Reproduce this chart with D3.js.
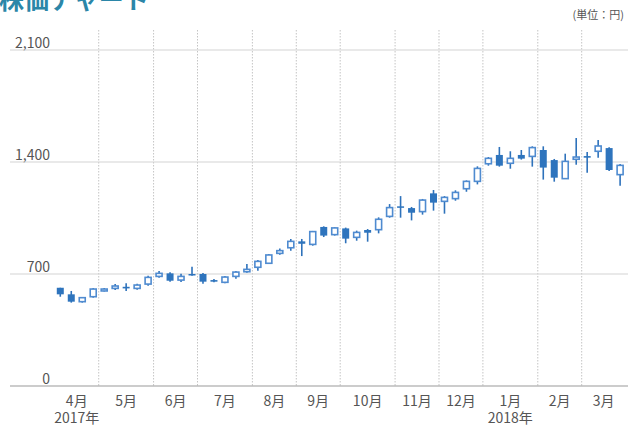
<!DOCTYPE html>
<html lang="ja">
<head>
<meta charset="utf-8">
<script src="https://cdn.jsdelivr.net/npm/d3@7"></script>
<style>
  html, body { margin: 0; padding: 0; background: #fff; }
  svg { display: block; }
  text { font-family: "Noto Sans CJK JP", "Noto Sans", sans-serif; }
</style>
</head>
<body>
<svg id="chart" width="628" height="425"></svg>
<script>
// Weekly candles (week starting Monday), April 2017 – March 2018
const weeks = [
  "2017-04-03","2017-04-10","2017-04-17","2017-04-24",
  "2017-05-01","2017-05-08","2017-05-15","2017-05-22","2017-05-29",
  "2017-06-05","2017-06-12","2017-06-19","2017-06-26",
  "2017-07-03","2017-07-10","2017-07-17","2017-07-24","2017-07-31",
  "2017-08-07","2017-08-14","2017-08-21","2017-08-28",
  "2017-09-04","2017-09-11","2017-09-18","2017-09-25",
  "2017-10-02","2017-10-09","2017-10-16","2017-10-23","2017-10-30",
  "2017-11-06","2017-11-13","2017-11-20","2017-11-27",
  "2017-12-04","2017-12-11","2017-12-18","2017-12-25",
  "2018-01-01","2018-01-08","2018-01-15","2018-01-22","2018-01-29",
  "2018-02-05","2018-02-12","2018-02-19","2018-02-26",
  "2018-03-05","2018-03-12","2018-03-19","2018-03-26"
];
const openPrices = [
  614, 573, 527, 558, 594, 610, 620, 610, 637,
  685, 704, 662, 700, 700, 662, 648, 685, 714,
  742, 767, 829, 864, 904, 885, 994, 946,
  985, 929, 975, 977, 1060, 1123, 1112, 1090, 1204,
  1154, 1171, 1233, 1279, 1389, 1444, 1392, 1444, 1435,
  1475, 1412, 1296, 1417, 1437, 1467, 1487, 1321
];
const highPrices = [
  614, 594, 556, 612, 612, 637, 642, 639, 689,
  719, 711, 702, 745, 706, 669, 687, 719, 762,
  787, 825, 860, 919, 919, 969, 998, 992,
  990, 971, 981, 1054, 1137, 1187, 1119, 1169, 1225,
  1187, 1223, 1285, 1373, 1431, 1494, 1467, 1475, 1498,
  1498, 1419, 1452, 1550, 1462, 1537, 1492, 1387
];
const lowPrices = [
  558, 521, 521, 552, 590, 600, 594, 602, 627,
  677, 652, 650, 689, 639, 648, 642, 671, 708,
  721, 762, 821, 846, 812, 877, 931, 940,
  892, 908, 902, 954, 1052, 1052, 1035, 1071, 1096,
  1077, 1158, 1214, 1260, 1377, 1371, 1358, 1415, 1371,
  1290, 1277, 1296, 1383, 1333, 1427, 1344, 1252
];
const closePrices = [
  573, 527, 552, 606, 606, 625, 610, 631, 679,
  704, 658, 685, 697, 652, 652, 681, 712, 729,
  779, 819, 846, 904, 889, 965, 940, 988,
  921, 960, 958, 1042, 1115, 1115, 1083, 1162, 1146,
  1179, 1210, 1279, 1360, 1423, 1377, 1423, 1421, 1490,
  1365, 1302, 1404, 1431, 1427, 1500, 1350, 1379
];
const yTicks = [0, 700, 1400, 2100];
const monthNames = ["1月","2月","3月","4月","5月","6月","7月","8月","9月","10月","11月","12月"];

const candles = weeks.map((w, i) => ({
  week: w,
  open: openPrices[i], high: highPrices[i], low: lowPrices[i], close: closePrices[i]
}));

const svg = d3.select("#chart");
const W = 628;

const x = d3.scaleBand().domain(weeks).range([54.8, 625.6]).paddingInner(0).paddingOuter(0);
const y = d3.scaleLinear().domain([0, 2100]).range([386, 50]);

// Title and unit
svg.append("text").attr("x", -1).attr("y", 8.5)
  .attr("font-size", 25).attr("font-weight", 700).attr("fill", "#2b86a8")
  .text("株価チャート");
svg.append("text").attr("x", 624).attr("y", 19).attr("text-anchor", "end")
  .attr("font-size", 11).attr("fill", "#555")
  .text("(単位：円)");

// Group weeks by month
const parse = d3.timeParse("%Y-%m-%d");
const months = d3.groups(weeks, w => w.slice(0, 7)).map(([key, ws]) => ({
  key, weeks: ws, date: parse(ws[0])
}));

// Vertical dotted separators at each month start
svg.append("g").selectAll("line")
  .data(months.slice(1))
  .join("line")
  .attr("x1", d => x(d.weeks[0])).attr("x2", d => x(d.weeks[0]))
  .attr("y1", 30).attr("y2", 386)
  .attr("stroke", "#c4c4c4").attr("stroke-width", 1)
  .attr("stroke-dasharray", "1.5,1.5");

// Horizontal gridlines + y labels
const yAxis = d3.axisLeft(y).tickValues(yTicks).tickSize(0).tickFormat(d3.format(","));
const gy = svg.append("g").attr("transform", "translate(50,0)").call(yAxis);
gy.select(".domain").remove();
gy.selectAll("text").attr("x", 0).attr("dy", "-3px")
  .attr("font-size", 14).attr("fill", "#555").attr("font-family", "'Noto Sans CJK JP', sans-serif");

svg.append("g").selectAll("line")
  .data(yTicks.filter(v => v !== 0))
  .join("line")
  .attr("x1", 10).attr("x2", W).attr("y1", d => y(d)).attr("y2", d => y(d))
  .attr("stroke", "#d4d4d4").attr("stroke-width", 1.2);

svg.append("line").attr("x1", 10).attr("x2", W).attr("y1", y(0)).attr("y2", y(0))
  .attr("stroke", "#9a9a9a").attr("stroke-width", 1.2);

// Month and year labels
const labels = svg.append("g").attr("font-size", 14).attr("fill", "#555").attr("text-anchor", "middle");
months.forEach(m => {
  const first = x(m.weeks[0]);
  const last = x(m.weeks[m.weeks.length - 1]) + x.bandwidth();
  const mx = (first + last) / 2;
  labels.append("text").attr("x", mx).attr("y", 405.5).text(monthNames[m.date.getMonth()]);
  if (m.key === "2017-04" || m.date.getMonth() === 0) {
    labels.append("text").attr("x", mx).attr("y", 423).text(m.date.getFullYear() + "年");
  }
});

// Candles
const cg = svg.append("g");
const cx = d => x(d.week) + x.bandwidth() / 2;
cg.selectAll("line.wick")
  .data(candles).join("line").attr("class", "wick")
  .attr("x1", cx).attr("x2", cx)
  .attr("y1", d => y(d.high)).attr("y2", d => y(d.low))
  .attr("stroke", "#2e72bb").attr("stroke-width", 1.6);

cg.selectAll("rect.body")
  .data(candles).join("rect").attr("class", "body")
  .each(function(d) {
    const up = d.close >= d.open;
    const top = y(Math.max(d.open, d.close));
    const bot = y(Math.min(d.open, d.close));
    const s = d3.select(this);
    if (up) {
      s.attr("x", cx(d) - 3).attr("width", 6)
        .attr("y", top).attr("height", Math.max(1, bot - top))
        .attr("fill", "#fff").attr("stroke", "#4f8bd0").attr("stroke-width", 1.6);
    } else {
      s.attr("x", cx(d) - 3.5).attr("width", 7)
        .attr("y", top).attr("height", Math.max(1.5, bot - top))
        .attr("fill", "#2e74bd");
    }
  });
</script>
</body>
</html>
